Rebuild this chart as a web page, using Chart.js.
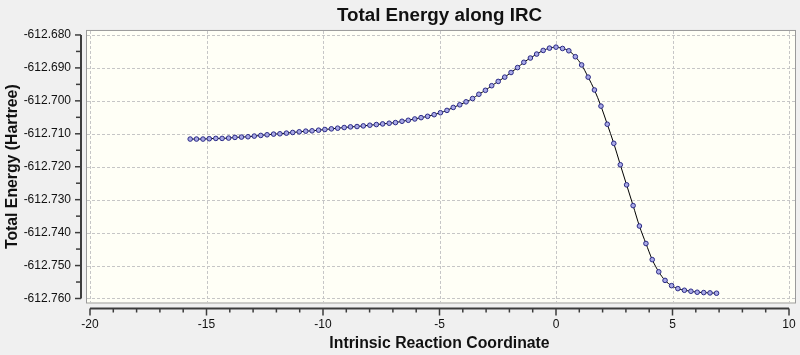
<!DOCTYPE html>
<html>
<head>
<meta charset="utf-8">
<script src="https://cdn.jsdelivr.net/npm/chart.js@4.4.1/dist/chart.umd.min.js"></script>
<style>
  html, body { margin: 0; padding: 0; background: #f0f0f0; }
  #wrap { width: 800px; height: 355px; }
</style>
</head>
<body>
<div id="wrap"><canvas id="c" width="800" height="355"></canvas></div>
<script>
// Intrinsic reaction coordinate (x) for each IRC point
const ircCoord = [
  -15.70, -15.43, -15.15, -14.88, -14.60, -14.33, -14.05, -13.78, -13.50, -13.22,
  -12.95, -12.67, -12.40, -12.12, -11.85, -11.57, -11.30, -11.02, -10.74, -10.47,
  -10.19, -9.92, -9.64, -9.37, -9.09, -8.82, -8.54, -8.27, -7.99, -7.71,
  -7.44, -7.16, -6.89, -6.61, -6.34, -6.06, -5.79, -5.51, -5.23, -4.96,
  -4.68, -4.41, -4.13, -3.86, -3.58, -3.31, -3.03, -2.76, -2.48, -2.20,
  -1.93, -1.65, -1.38, -1.10, -0.83, -0.55, -0.28, 0.00, 0.28, 0.55,
  0.83, 1.10, 1.38, 1.65, 1.93, 2.20, 2.48, 2.76, 3.03, 3.31,
  3.58, 3.86, 4.13, 4.41, 4.68, 4.96, 5.23, 5.51, 5.79, 6.06,
  6.34, 6.61, 6.89
];
// Total energy (Hartree) at each point
const totalEnergy = [
  -612.7116, -612.7116, -612.7116, -612.7115, -612.7114, -612.7114, -612.7113, -612.7111, -612.7110, -612.7109,
  -612.7107, -612.7105, -612.7103, -612.7101, -612.7100, -612.7098, -612.7096, -612.7094, -612.7092, -612.7091,
  -612.7089, -612.7087, -612.7085, -612.7083, -612.7081, -612.7079, -612.7078, -612.7076, -612.7074, -612.7072,
  -612.7070, -612.7068, -612.7066, -612.7062, -612.7059, -612.7055, -612.7051, -612.7047, -612.7042, -612.7036,
  -612.7029, -612.7020, -612.7012, -612.7003, -612.6993, -612.6980, -612.6968, -612.6954, -612.6941, -612.6928,
  -612.6914, -612.6899, -612.6883, -612.6870, -612.6858, -612.6847, -612.6840, -612.6837, -612.6841, -612.6848,
  -612.6866, -612.6891, -612.6928, -612.6967, -612.7016, -612.7071, -612.7129, -612.7194, -612.7255, -612.7318,
  -612.7380, -612.7433, -612.7482, -612.7519, -612.7545, -612.7561, -612.7570, -612.7575, -612.7578, -612.7581,
  -612.7582, -612.7583, -612.7584
];
// Tick values
const xTicks = [-20, -15, -10, -5, 0, 5, 10];
const yTicks = [-612.680, -612.690, -612.700, -612.710, -612.720, -612.730, -612.740, -612.750, -612.760];

const titleText = 'Total Energy along IRC';
const xTitle = 'Intrinsic Reaction Coordinate';
const yTitle = 'Total Energy (Hartree)';

const FONT = '"Liberation Sans", Arial, sans-serif';

const framePlugin = {
  id: 'frame',
  beforeDraw(chart) {
    const { ctx, chartArea: a, scales } = chart;
    const xs = scales.x, ys = scales.y;
    ctx.save();
    ctx.fillStyle = '#f0f0f0';
    ctx.fillRect(0, 0, chart.width, chart.height);
    // plot frame
    const fl = a.left - 4, ft = a.top - 5, fr = a.right + 7, fb = a.bottom + 5;
    ctx.fillStyle = '#fffff6';
    ctx.fillRect(fl, ft, fr - fl, fb - ft);
    ctx.strokeStyle = '#9a9a9a';
    ctx.lineWidth = 1;
    ctx.strokeRect(fl + 0.5, ft + 0.5, fr - fl - 1, fb - ft - 1);
    // dashed grid
    ctx.strokeStyle = '#c6c6c6';
    ctx.setLineDash([3, 2]);
    xTicks.forEach(v => {
      const px = Math.round(xs.getPixelForValue(v)) + 0.5;
      ctx.beginPath(); ctx.moveTo(px, ft + 1); ctx.lineTo(px, fb - 1); ctx.stroke();
    });
    yTicks.forEach(v => {
      const py = Math.round(ys.getPixelForValue(v)) + 0.5;
      ctx.beginPath(); ctx.moveTo(fl + 1, py); ctx.lineTo(fr - 1, py); ctx.stroke();
    });
    ctx.setLineDash([]);
    // axis lines
    ctx.strokeStyle = '#3c3c3c';
    ctx.lineWidth = 2;
    const axX = a.left - 9;
    const axY = a.bottom + 10;
    ctx.beginPath(); ctx.moveTo(axX, ys.getPixelForValue(yTicks[0])); ctx.lineTo(axX, ys.getPixelForValue(yTicks[yTicks.length - 1])); ctx.stroke();
    ctx.beginPath(); ctx.moveTo(xs.getPixelForValue(xTicks[0]), axY); ctx.lineTo(xs.getPixelForValue(xTicks[xTicks.length - 1]), axY); ctx.stroke();
    ctx.lineWidth = 1.5;
    // y ticks: major + half-step minor
    for (let i = 0; i < yTicks.length; i++) {
      const py = ys.getPixelForValue(yTicks[i]);
      ctx.beginPath(); ctx.moveTo(axX - 6, py); ctx.lineTo(axX, py); ctx.stroke();
      if (i < yTicks.length - 1) {
        const pm = ys.getPixelForValue((yTicks[i] + yTicks[i + 1]) / 2);
        ctx.beginPath(); ctx.moveTo(axX - 5, pm); ctx.lineTo(axX, pm); ctx.stroke();
      }
    }
    // x ticks: major + unit minor
    for (let i = 0; i < xTicks.length; i++) {
      const px = xs.getPixelForValue(xTicks[i]);
      ctx.beginPath(); ctx.moveTo(px, axY); ctx.lineTo(px, axY + 7); ctx.stroke();
      if (i < xTicks.length - 1) {
        const step = (xTicks[i + 1] - xTicks[i]) / 5;
        for (let k = 1; k < 5; k++) {
          const pm = xs.getPixelForValue(xTicks[i] + k * step);
          ctx.beginPath(); ctx.moveTo(pm, axY); ctx.lineTo(pm, axY + 4); ctx.stroke();
        }
      }
    }
    ctx.restore();
  }
};

new Chart(document.getElementById('c'), {
  type: 'line',
  data: {
    datasets: [{
      data: ircCoord.map((x, i) => ({ x: x, y: totalEnergy[i] })),
      borderColor: '#000000',
      borderWidth: 1,
      cubicInterpolationMode: 'monotone',
      pointRadius: 2.3,
      pointBorderWidth: 1,
      pointBorderColor: '#2b2b86',
      pointBackgroundColor: '#a9a9e6',
      fill: false
    }]
  },
  options: {
    responsive: false,
    animation: false,
    events: [],
    layout: { padding: { left: 5, right: 11, top: 1, bottom: 1.5 } },
    plugins: {
      legend: { display: false },
      tooltip: { enabled: false },
      title: {
        display: true,
        text: titleText,
        fullSize: false,
        color: '#111',
        font: { family: FONT, size: 18.8, weight: 'bold' },
        padding: { top: 3.5, bottom: 7.9 }
      }
    },
    scales: {
      x: {
        type: 'linear',
        min: -20, max: 10,
        afterBuildTicks: s => { s.ticks = xTicks.map(v => ({ value: v })); },
        afterFit: s => { s.height = 55; s.paddingLeft = 0; s.paddingRight = 0; },
        grid: { display: false, drawTicks: false },
        border: { display: false },
        ticks: { padding: 19, color: '#111', font: { family: FONT, size: 12 }, maxRotation: 0 },
        title: { display: true, text: xTitle, color: '#111', font: { family: FONT, size: 15.8, weight: 'bold' }, padding: { top: 2, bottom: 0 } }
      },
      y: {
        type: 'linear',
        min: -612.76, max: -612.68,
        afterBuildTicks: s => { s.ticks = yTicks.map(v => ({ value: v })); },
        afterFit: s => { s.width = 85; s.paddingTop = 0; s.paddingBottom = 0; },
        grid: { display: false, drawTicks: false },
        border: { display: false },
        ticks: { padding: 19, color: '#111', font: { family: FONT, size: 12 }, callback: v => Number(v).toFixed(3) },
        title: { display: true, text: yTitle, color: '#111', font: { family: FONT, size: 15.8, weight: 'bold', lineHeight: 1 }, padding: { top: 0, bottom: 2 } }
      }
    }
  },
  plugins: [framePlugin]
});
</script>
</body>
</html>
